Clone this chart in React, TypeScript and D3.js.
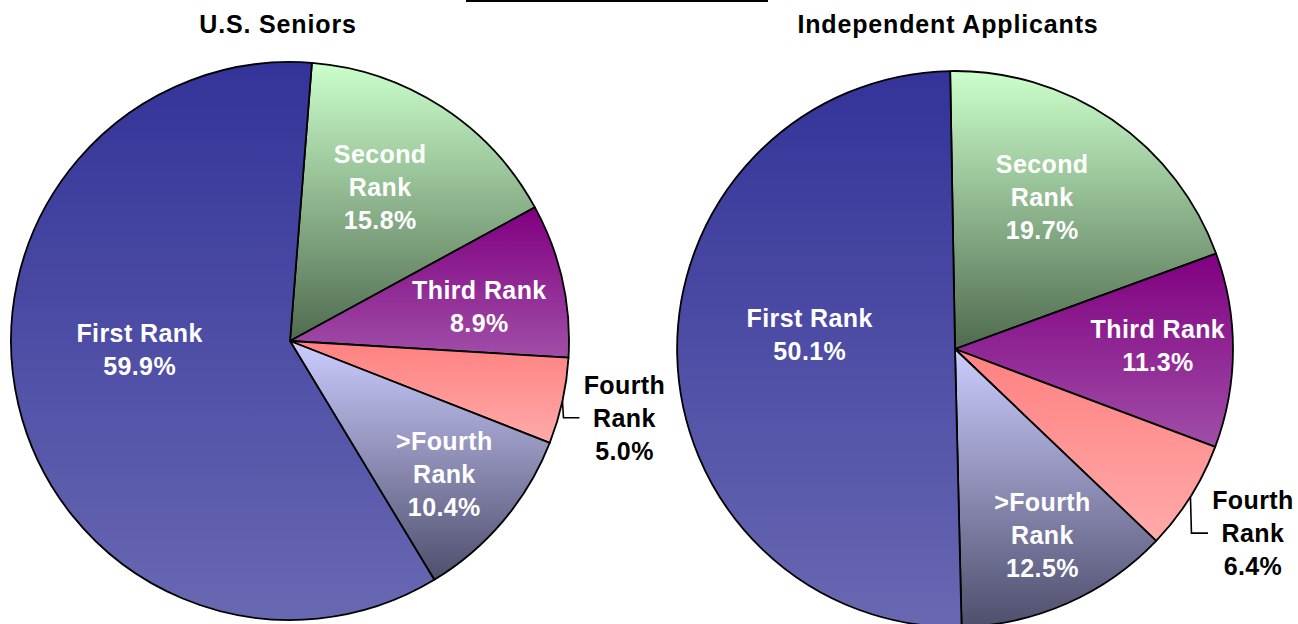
import * as d3 from 'd3'

// slice order runs clockwise from the start angle
const categories = ['Second Rank', 'Third Rank', 'Fourth Rank', '>Fourth Rank', 'First Rank']
const seniorValues = [15.8, 8.9, 5.0, 10.4, 59.9]
const independentValues = [19.7, 11.3, 6.4, 12.5, 50.1]
const chartTitles = ['U.S. Seniors', 'Independent Applicants']

// label text split into lines
const labelLines = [['Second', 'Rank'], ['Third Rank'], ['Fourth', 'Rank'], ['>Fourth', 'Rank'], ['First Rank']]

// gradient fills (top colour, bottom colour)
const gradTop = ['#ccffcc', '#800080', '#ff8080', '#ccccff', '#333399']
const gradBottom = ['#4f6b4f', '#a04ea8', '#ffaaaa', '#4e4e6c', '#6868b2']

const FONT = '"Liberation Sans", Arial, sans-serif'

interface PieSpec {
  key: string
  title: string
  values: number[]
  cx: number
  cy: number
  r: number
  startDeg: number
  // label placement: [angle offset deg, radius factor] per slice
  labelPos: [number, number][]
}

const pies: PieSpec[] = [
  {
    key: 'sen',
    title: chartTitles[0],
    values: seniorValues,
    cx: 290,
    cy: 341,
    r: 279,
    startDeg: 4.5,
    labelPos: [[-2.6, 0.64], [2.2, 0.69], [0.5, 1.23], [0.6, 0.73], [10, 0.54]],
  },
  {
    key: 'ind',
    title: chartTitles[1],
    values: independentValues,
    cx: 955,
    cy: 349,
    r: 278,
    startDeg: -1,
    labelPos: [[-4.6, 0.63], [-1.2, 0.73], [-0.4, 1.26], [-1.3, 0.74], [6.7, 0.525]],
  },
]

const rad = (d: number) => (d * Math.PI) / 180
const polar = (cx: number, cy: number, a: number, r: number): [number, number] => [
  cx + r * Math.sin(a),
  cy - r * Math.cos(a),
]

function Pie({ spec }: { spec: PieSpec }) {
  const pie = d3.pie<number>().sort(null).startAngle(rad(spec.startDeg)).endAngle(rad(spec.startDeg) + 2 * Math.PI)
  const arcs = pie(spec.values)
  const arc = d3.arc<d3.PieArcDatum<number>>().innerRadius(0).outerRadius(spec.r)
  const lineH = 33

  return (
    <g>
      <defs>
        {categories.map((c, i) => (
          <linearGradient key={c} id={`g-${spec.key}-${i}`} x1="0" y1="0" x2="0" y2="1">
            <stop offset="0%" stopColor={gradTop[i]} />
            <stop offset="100%" stopColor={gradBottom[i]} />
          </linearGradient>
        ))}
      </defs>
      <text
        x={spec.key === 'sen' ? 278 : 948}
        y={33}
        textAnchor="middle"
        fontFamily={FONT}
        fontWeight="bold"
        fontSize={25}
        letterSpacing={0.85}
        fill="#000"
      >
        {spec.title}
      </text>
      <g transform={`translate(${spec.cx},${spec.cy})`}>
        {arcs.map((a, i) => (
          <path key={i} d={arc(a) || ''} fill={`url(#g-${spec.key}-${i})`} stroke="#000" strokeWidth={1.8} strokeLinejoin="round" />
        ))}
      </g>
      {arcs.map((a, i) => {
        const mid = (a.startAngle + a.endAngle) / 2
        const [dA, k] = spec.labelPos[i]
        const [lx, ly] = polar(spec.cx, spec.cy, mid + rad(dA), spec.r * k)
        const outside = k > 1
        const lines = [...labelLines[i], `${spec.values[i].toFixed(1)}%`]
        const n = lines.length
        let leader = null
        if (outside) {
          const [ex, ey] = polar(spec.cx, spec.cy, mid, spec.r)
          leader = (
            <polyline
              points={`${ex},${ey} ${ex + 1},${ly} ${lx - 45},${ly}`}
              fill="none"
              stroke="#000"
              strokeWidth={1.6}
            />
          )
        }
        return (
          <g key={`l${i}`}>
            {leader}
            <text
              textAnchor="middle"
              fontFamily={FONT}
              fontWeight="bold"
              fontSize={25}
              letterSpacing={0.4}
              fill={outside ? '#000' : '#fff'}
            >
              {lines.map((t, j) => (
                <tspan key={j} x={lx} y={ly + (j - (n - 1) / 2) * lineH} dy="0.36em">
                  {t}
                </tspan>
              ))}
            </text>
          </g>
        )
      })}
    </g>
  )
}

export default function App() {
  return (
    <div style={{ position: 'absolute', left: 0, top: 0, background: '#fff' }}>
      <svg width={1298} height={624} style={{ display: 'block' }}>
        <rect width={1298} height={624} fill="#fff" />
        <line x1={466} x2={768} y1={1} y2={1} stroke="#000" strokeWidth={2} />
        {pies.map((p) => (
          <Pie key={p.key} spec={p} />
        ))}
      </svg>
    </div>
  )
}
